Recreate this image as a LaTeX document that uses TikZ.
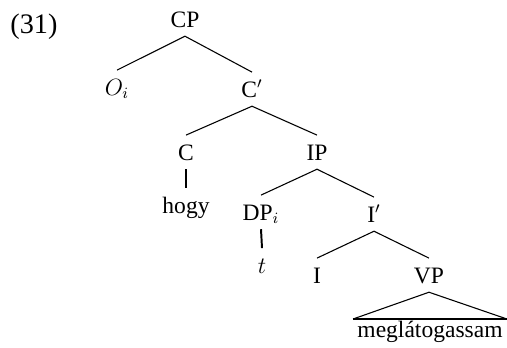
\documentclass[tikz,border=0pt]{standalone}
\usepackage{fontspec}
\setmainfont{Liberation Serif}
\usetikzlibrary{calc}
\tikzset{
  cat/.style={inner xsep=1pt,inner ysep=4.5pt,text height=8pt,text depth=0pt,anchor=base},
  leaf/.style={inner xsep=2pt,inner ysep=2pt,text height=7pt,text depth=0pt,anchor=base},
  branch/.style={line width=0.55pt},
  stem/.style={line width=1pt},
}

\begin{document}
\begin{tikzpicture}[x=0.51pt,y=-0.51pt,font=\fontsize{12}{14}\selectfont]
        \useasboundingbox (0,0) rectangle (507,347);
        \node (ex) at (10,33) [anchor=base west,inner sep=0pt,font=\fontsize{14.4}{17}\selectfont] {(31)};
        % the tree, top to bottom
        \node[cat] (cp) at (185,27) {CP};
        \node[cat] (oi) at (117,95) {$O_i$};
        \node[cat] (cbar) at (252,97) {C$'$};
        \node[cat] (c) at (186,160) {C};
        \node[cat] (ip) at (317,160) {IP};
        \node[cat] (hogy) at (186,213) {hogy};
        \node[cat] (dp) at (261,220) {DP$_i$};
        \node[cat] (ibar) at (374,222) {I$'$};
        \node[cat] (t) at (262,273) {$t$};
        \node[cat] (i) at (317,283) {I};
        \node[cat] (vp) at (429,283) {VP};
        \node[leaf] (verb) at (430,337) {meglátogassam};
        \draw[branch] (oi.north) -- (cp.south) -- (cbar.north);
        \draw[branch] (c.north) -- (cbar.south) -- (ip.north);
        \draw[stem] (c.south) -- (hogy.north);
        \draw[branch] (dp.north) -- (ip.south) -- (ibar.north);
        \draw[stem] (dp.south) -- (t.north);
        \draw[branch] (i.north) -- (ibar.south) -- (vp.north);
        \draw[branch] (verb.north west) -- (vp.south) -- (verb.north east);
        \draw[stem] (verb.north west) -- (verb.north east);
    \end{tikzpicture}
\end{document}
